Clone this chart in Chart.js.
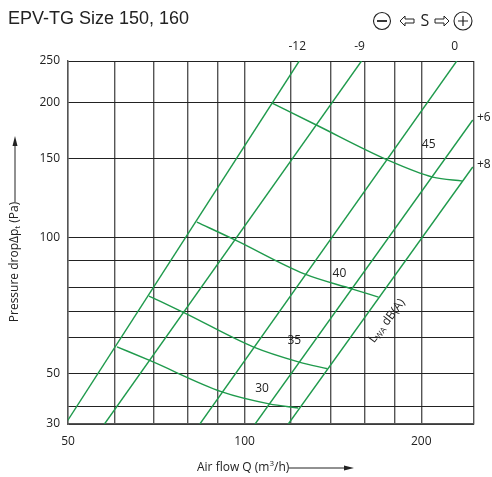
<!DOCTYPE html>
<html>
<head>
<meta charset="utf-8">
<script src="https://cdn.jsdelivr.net/npm/chart.js@4"></script>
<style>
  body { margin: 0; background: #fff; }
  #wrap { width: 492px; height: 477px; }
</style>
</head>
<body>
<div id="wrap"><canvas id="chart" width="492" height="477"></canvas></div>
<script>
// axis ticks (gridlines)
const flowTicks = [50, 60, 70, 80, 90, 100, 120, 140, 160, 180, 200, 246];
const flowTickLabels = ['50', '', '', '', '', '100', '', '', '', '', '200', ''];
const pressureTicks = [38.6, 42.3, 50, 60.2, 68.5, 77.8, 88.9, 100, 150, 200, 247.4];
const pressureTickLabels = ['30', '', '50', '', '', '', '', '100', '150', '200', '250'];

// damper setting lines (S), two end points each
const settingLabels = ['-12', '-9', '0', '+6', '+8'];
const settingFlow = [[49.5, 123.9], [57.7, 158.2], [83.9, 229.9], [104.2, 244.8], [118.7, 244.8]];
const settingPressure = [[38.6, 247.4], [38.6, 247.4], [38.6, 247.4], [38.6, 182.9], [38.6, 143.8]];

// sound power curves LWA dB(A)
const noiseLevels = ['30', '35', '40', '45'];
const noiseFlow = [
  [60.6, 69.2, 91.5, 110.1, 123.4],
  [68.7, 79.1, 103.4, 123.9, 138.4],
  [82.9, 96.3, 126.4, 152.7, 169.1],
  [111.4, 132.5, 175.2, 209.2, 235.4]
];
const noisePressure = [
  [57.3, 53.3, 45.5, 42.8, 41.9],
  [74.3, 68.1, 57.3, 53.0, 51.2],
  [108.5, 99.0, 83.2, 77.0, 73.9],
  [199.5, 178.3, 149.1, 136.6, 133.8]
];
const noiseLabelFlow = [107.1, 121.5, 145.1, 205.9];
const noiseLabelPressure = [46.2, 59.3, 83.2, 160.9];

const GREEN = '#1f9a4c';
const INK = '#222';
const FONT = '"Open Sans", "Noto Sans", sans-serif';

const toPoints = (xs, ys) => xs.map((x, i) => ({ x: x, y: ys[i] }));

const datasets = [];
settingLabels.forEach((label, i) => {
  datasets.push({
    label: 'S ' + label,
    data: toPoints(settingFlow[i], settingPressure[i]),
    borderColor: GREEN,
    borderWidth: 1.4,
    pointRadius: 0,
    showLine: true
  });
});
noiseLevels.forEach((label, i) => {
  datasets.push({
    label: label + ' dB(A)',
    data: toPoints(noiseFlow[i], noisePressure[i]),
    borderColor: GREEN,
    borderWidth: 1.4,
    pointRadius: 0,
    showLine: true,
    cubicInterpolationMode: 'monotone'
  });
});

function arrow(ctx, x1, y1, x2, y2) {
  const a = Math.atan2(y2 - y1, x2 - x1);
  ctx.beginPath();
  ctx.moveTo(x1, y1);
  ctx.lineTo(x2 - 8 * Math.cos(a), y2 - 8 * Math.sin(a));
  ctx.stroke();
  ctx.beginPath();
  ctx.moveTo(x2, y2);
  ctx.lineTo(x2 - 10 * Math.cos(a) + 2.5 * Math.sin(a), y2 - 10 * Math.sin(a) - 2.5 * Math.cos(a));
  ctx.lineTo(x2 - 10 * Math.cos(a) - 2.5 * Math.sin(a), y2 - 10 * Math.sin(a) + 2.5 * Math.cos(a));
  ctx.closePath();
  ctx.fill();
}

// runs: [text, size, dy]; drawn centred on (0,0) of current transform
function runs(ctx, parts, align) {
  let w = 0;
  parts.forEach(p => { ctx.font = p[1] + 'px ' + FONT; w += ctx.measureText(p[0]).width; });
  let x = align === 'left' ? 0 : -w / 2;
  ctx.textAlign = 'left';
  parts.forEach(p => {
    ctx.font = p[1] + 'px ' + FONT;
    ctx.fillText(p[0], x, p[2]);
    x += ctx.measureText(p[0]).width;
  });
}

function hollowArrow(ctx, cx, cy, dir) {
  ctx.save();
  ctx.translate(cx, cy);
  ctx.scale(dir, 1);
  ctx.beginPath();
  ctx.moveTo(7, 0);
  ctx.lineTo(2, -5);
  ctx.lineTo(2, -2);
  ctx.lineTo(-7, -2);
  ctx.lineTo(-7, 2);
  ctx.lineTo(2, 2);
  ctx.lineTo(2, 5);
  ctx.closePath();
  ctx.stroke();
  ctx.restore();
}

const annotations = {
  id: 'annotations',
  afterDraw(chart) {
    const ctx = chart.ctx;
    const xs = chart.scales.x, ys = chart.scales.y;
    const area = chart.chartArea;
    ctx.save();
    ctx.fillStyle = INK;
    ctx.strokeStyle = INK;
    ctx.textBaseline = 'middle';

    // title
    ctx.font = '18px "Liberation Sans", Arial, sans-serif';
    ctx.textAlign = 'left';
    ctx.fillText('EPV-TG Size 150, 160', 8, 19);

    // S symbol
    ctx.lineWidth = 1.1;
    ctx.beginPath(); ctx.arc(382, 21, 8.5, 0, Math.PI * 2); ctx.stroke();
    ctx.beginPath(); ctx.arc(463, 21, 9, 0, Math.PI * 2); ctx.stroke();
    ctx.lineWidth = 1.8;
    ctx.beginPath(); ctx.moveTo(377, 21); ctx.lineTo(387, 21); ctx.stroke();
    ctx.lineWidth = 1.2;
    ctx.beginPath(); ctx.moveTo(458, 21); ctx.lineTo(468, 21); ctx.moveTo(463, 16); ctx.lineTo(463, 26); ctx.stroke();
    ctx.lineWidth = 1;
    hollowArrow(ctx, 407, 21, -1);
    hollowArrow(ctx, 442, 21, 1);
    ctx.font = '16px ' + FONT;
    ctx.textAlign = 'center';
    ctx.fillText('S', 425, 21);

    // setting labels
    ctx.font = '12px ' + FONT;
    settingLabels.forEach((label, i) => {
      const qEnd = settingFlow[i][1], pEnd = settingPressure[i][1];
      if (pEnd >= ys.max) {
        ctx.textAlign = 'center';
        ctx.fillText(label, xs.getPixelForValue(qEnd) - 2, area.top - 14);
      } else {
        ctx.textAlign = 'left';
        ctx.fillText(label, area.right + 3, ys.getPixelForValue(pEnd) - 2);
      }
    });

    // noise level labels
    ctx.textAlign = 'center';
    noiseLevels.forEach((label, i) => {
      ctx.fillText(label, xs.getPixelForValue(noiseLabelFlow[i]), ys.getPixelForValue(noiseLabelPressure[i]));
    });

    // LWA dB(A)
    ctx.save();
    ctx.translate(387, 321);
    ctx.rotate(-52.7 * Math.PI / 180);
    runs(ctx, [['L', 12, 0], ['WA', 8, 3], [' dB(A)', 12, 0]]);
    ctx.restore();

    // x axis title
    ctx.save();
    ctx.translate(197, 468);
    runs(ctx, [['Air flow Q (m', 12, 0], ['3', 8, -4], ['/h)', 12, 0]], 'left');
    ctx.restore();
    ctx.lineWidth = 1;
    arrow(ctx, 289, 468, 354, 468);

    // y axis title
    ctx.save();
    ctx.translate(15, 262);
    ctx.rotate(-Math.PI / 2);
    runs(ctx, [['Pressure drop\u0394p', 12, 0], ['t', 8, 3], [' (Pa)', 12, 0]]);
    ctx.restore();
    arrow(ctx, 15, 202, 15, 136);

    ctx.restore();
  }
};

new Chart(document.getElementById('chart'), {
  type: 'scatter',
  data: { datasets: datasets },
  options: {
    responsive: false,
    animation: false,
    layout: { padding: { top: 61, right: 18, left: 0, bottom: 0 } },
    plugins: { legend: { display: false }, tooltip: { enabled: false } },
    scales: {
      x: {
        type: 'logarithmic',
        min: 50,
        max: 246,
        bounds: 'data',
        afterBuildTicks: s => { s.ticks = flowTicks.map(v => ({ value: v })); },
        afterFit: s => { s.height = 53; },
        ticks: {
          autoSkip: false,
          maxRotation: 0,
          padding: 10,
          color: INK,
          font: { family: FONT, size: 12 },
          callback: (v, i) => flowTickLabels[i]
        },
        grid: { color: '#555', lineWidth: 1.4, drawTicks: false },
        border: { color: '#555', width: 1.4 }
      },
      y: {
        type: 'logarithmic',
        min: 38.6,
        max: 247.4,
        bounds: 'data',
        afterBuildTicks: s => { s.ticks = pressureTicks.map(v => ({ value: v })); },
        afterFit: s => { s.width = 68; },
        ticks: {
          autoSkip: false,
          padding: 8,
          color: INK,
          font: { family: FONT, size: 12 },
          callback: (v, i) => pressureTickLabels[i]
        },
        grid: { color: '#222', lineWidth: 1, drawTicks: false },
        border: { color: '#555', width: 1.4 }
      }
    }
  },
  plugins: [annotations]
});
</script>
</body>
</html>
